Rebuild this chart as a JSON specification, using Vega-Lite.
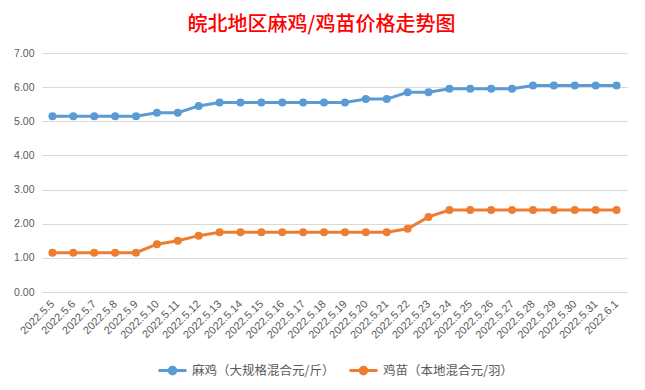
{
  "$schema": "https://vega.github.io/schema/vega-lite/v6.json",
  "width": 585,
  "height": 239,
  "autosize": "none",
  "padding": {"left": 42, "top": 53, "right": 18, "bottom": 98},
  "background": "white",
  "title": {
    "text": "皖北地区麻鸡/鸡苗价格走势图",
    "font": "Noto Sans CJK SC",
    "fontSize": 20,
    "fontWeight": 500,
    "color": "#FF0000",
    "anchor": "middle",
    "dx": -13,
    "offset": 13
  },
  "data": {
    "values": [
      {"date": "2022.5.5", "series": "麻鸡（大规格混合元/斤）", "value": 5.15},
      {"date": "2022.5.6", "series": "麻鸡（大规格混合元/斤）", "value": 5.15},
      {"date": "2022.5.7", "series": "麻鸡（大规格混合元/斤）", "value": 5.15},
      {"date": "2022.5.8", "series": "麻鸡（大规格混合元/斤）", "value": 5.15},
      {"date": "2022.5.9", "series": "麻鸡（大规格混合元/斤）", "value": 5.15},
      {"date": "2022.5.10", "series": "麻鸡（大规格混合元/斤）", "value": 5.25},
      {"date": "2022.5.11", "series": "麻鸡（大规格混合元/斤）", "value": 5.25},
      {"date": "2022.5.12", "series": "麻鸡（大规格混合元/斤）", "value": 5.45},
      {"date": "2022.5.13", "series": "麻鸡（大规格混合元/斤）", "value": 5.55},
      {"date": "2022.5.14", "series": "麻鸡（大规格混合元/斤）", "value": 5.55},
      {"date": "2022.5.15", "series": "麻鸡（大规格混合元/斤）", "value": 5.55},
      {"date": "2022.5.16", "series": "麻鸡（大规格混合元/斤）", "value": 5.55},
      {"date": "2022.5.17", "series": "麻鸡（大规格混合元/斤）", "value": 5.55},
      {"date": "2022.5.18", "series": "麻鸡（大规格混合元/斤）", "value": 5.55},
      {"date": "2022.5.19", "series": "麻鸡（大规格混合元/斤）", "value": 5.55},
      {"date": "2022.5.20", "series": "麻鸡（大规格混合元/斤）", "value": 5.65},
      {"date": "2022.5.21", "series": "麻鸡（大规格混合元/斤）", "value": 5.65},
      {"date": "2022.5.22", "series": "麻鸡（大规格混合元/斤）", "value": 5.85},
      {"date": "2022.5.23", "series": "麻鸡（大规格混合元/斤）", "value": 5.85},
      {"date": "2022.5.24", "series": "麻鸡（大规格混合元/斤）", "value": 5.95},
      {"date": "2022.5.25", "series": "麻鸡（大规格混合元/斤）", "value": 5.95},
      {"date": "2022.5.26", "series": "麻鸡（大规格混合元/斤）", "value": 5.95},
      {"date": "2022.5.27", "series": "麻鸡（大规格混合元/斤）", "value": 5.95},
      {"date": "2022.5.28", "series": "麻鸡（大规格混合元/斤）", "value": 6.05},
      {"date": "2022.5.29", "series": "麻鸡（大规格混合元/斤）", "value": 6.05},
      {"date": "2022.5.30", "series": "麻鸡（大规格混合元/斤）", "value": 6.05},
      {"date": "2022.5.31", "series": "麻鸡（大规格混合元/斤）", "value": 6.05},
      {"date": "2022.6.1", "series": "麻鸡（大规格混合元/斤）", "value": 6.05},
      {"date": "2022.5.5", "series": "鸡苗（本地混合元/羽）", "value": 1.15},
      {"date": "2022.5.6", "series": "鸡苗（本地混合元/羽）", "value": 1.15},
      {"date": "2022.5.7", "series": "鸡苗（本地混合元/羽）", "value": 1.15},
      {"date": "2022.5.8", "series": "鸡苗（本地混合元/羽）", "value": 1.15},
      {"date": "2022.5.9", "series": "鸡苗（本地混合元/羽）", "value": 1.15},
      {"date": "2022.5.10", "series": "鸡苗（本地混合元/羽）", "value": 1.4},
      {"date": "2022.5.11", "series": "鸡苗（本地混合元/羽）", "value": 1.5},
      {"date": "2022.5.12", "series": "鸡苗（本地混合元/羽）", "value": 1.65},
      {"date": "2022.5.13", "series": "鸡苗（本地混合元/羽）", "value": 1.75},
      {"date": "2022.5.14", "series": "鸡苗（本地混合元/羽）", "value": 1.75},
      {"date": "2022.5.15", "series": "鸡苗（本地混合元/羽）", "value": 1.75},
      {"date": "2022.5.16", "series": "鸡苗（本地混合元/羽）", "value": 1.75},
      {"date": "2022.5.17", "series": "鸡苗（本地混合元/羽）", "value": 1.75},
      {"date": "2022.5.18", "series": "鸡苗（本地混合元/羽）", "value": 1.75},
      {"date": "2022.5.19", "series": "鸡苗（本地混合元/羽）", "value": 1.75},
      {"date": "2022.5.20", "series": "鸡苗（本地混合元/羽）", "value": 1.75},
      {"date": "2022.5.21", "series": "鸡苗（本地混合元/羽）", "value": 1.75},
      {"date": "2022.5.22", "series": "鸡苗（本地混合元/羽）", "value": 1.85},
      {"date": "2022.5.23", "series": "鸡苗（本地混合元/羽）", "value": 2.2},
      {"date": "2022.5.24", "series": "鸡苗（本地混合元/羽）", "value": 2.4},
      {"date": "2022.5.25", "series": "鸡苗（本地混合元/羽）", "value": 2.4},
      {"date": "2022.5.26", "series": "鸡苗（本地混合元/羽）", "value": 2.4},
      {"date": "2022.5.27", "series": "鸡苗（本地混合元/羽）", "value": 2.4},
      {"date": "2022.5.28", "series": "鸡苗（本地混合元/羽）", "value": 2.4},
      {"date": "2022.5.29", "series": "鸡苗（本地混合元/羽）", "value": 2.4},
      {"date": "2022.5.30", "series": "鸡苗（本地混合元/羽）", "value": 2.4},
      {"date": "2022.5.31", "series": "鸡苗（本地混合元/羽）", "value": 2.4},
      {"date": "2022.6.1", "series": "鸡苗（本地混合元/羽）", "value": 2.4}
    ]
  },
  "encoding": {
    "x": {
      "field": "date",
      "type": "nominal",
      "sort": null,
      "scale": {"type": "point", "padding": 0.5},
      "axis": {
        "title": null,
        "labelAngle": -45,
        "labelAlign": "right",
        "labelBaseline": "middle",
        "labelPadding": 10,
        "labelFont": "Liberation Sans",
        "labelFontSize": 11,
        "labelColor": "#595959",
        "domain": false,
        "ticks": false,
        "grid": false,
        "labelOverlap": false
      }
    },
    "y": {
      "field": "value",
      "type": "quantitative",
      "scale": {"domain": [0, 7], "nice": false},
      "axis": {
        "title": null,
        "values": [0, 1, 2, 3, 4, 5, 6, 7],
        "format": ".2f",
        "labelFont": "Liberation Sans",
        "labelFontSize": 10.5,
        "labelColor": "#595959",
        "labelPadding": 8,
        "domain": false,
        "ticks": false,
        "grid": true,
        "gridColor": "#D9D9D9",
        "gridWidth": 1
      }
    },
    "color": {
      "field": "series",
      "type": "nominal",
      "scale": {
        "domain": ["麻鸡（大规格混合元/斤）", "鸡苗（本地混合元/羽）"],
        "range": ["#5B9BD5", "#ED7D31"]
      },
      "legend": {
        "title": null,
        "orient": "bottom",
        "direction": "horizontal",
        "labelFont": "Noto Sans CJK SC",
        "labelFontSize": 12.5,
        "labelColor": "#595959",
        "symbolType": "M-1,0L1,0M-0.24,0A0.24,0.24 0 1,0 0.24,0A0.24,0.24 0 1,0 -0.24,0Z",
        "symbolSize": 784,
        "symbolStrokeWidth": 3,
        "columnPadding": 8,
        "labelOffset": 4,
        "offset": 14,
        "encode": {
          "symbols": {"update": {"fill": {"scale": "color", "field": "value"}}}
        }
      }
    }
  },
  "layer": [
    {"mark": {"type": "line", "strokeWidth": 3}},
    {"mark": {"type": "point", "filled": true, "size": 64, "opacity": 1}}
  ],
  "config": {
    "view": {"stroke": null},
    "legend": {"layout": {"bottom": {"anchor": "middle"}}}
  }
}
